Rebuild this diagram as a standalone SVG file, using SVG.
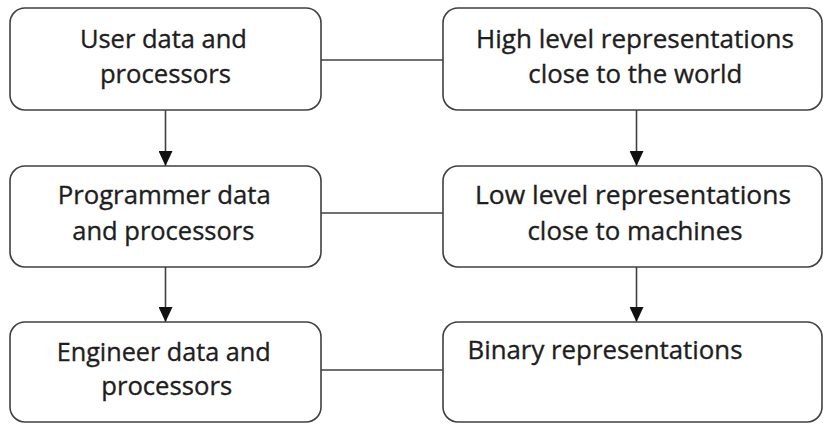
<svg xmlns="http://www.w3.org/2000/svg" width="823" height="424" viewBox="0 0 823 424">
<style>
.box{fill:#fff;stroke:#404040;stroke-width:1.6}
.lbl{font-family:"Open Sans","Liberation Sans",sans-serif;font-size:25px;fill:#1e1e1e;stroke:#1e1e1e;stroke-width:0.35;text-anchor:middle}
.edge{stroke:#404040;stroke-width:1.6;fill:none}
</style>
<defs>
<marker id="ah" markerWidth="16" markerHeight="14" refX="15" refY="7" orient="auto" markerUnits="userSpaceOnUse">
<path d="M0,0 L15,7 L0,14 Z" fill="#111"/>
</marker>
</defs>
<rect width="823" height="424" fill="#fff"/>
<g id="connectors">
<line class="edge" x1="321" y1="60" x2="443" y2="60"/>
<line class="edge" x1="321" y1="213" x2="443" y2="213"/>
<line class="edge" x1="321" y1="370" x2="443" y2="370"/>
<line class="edge" x1="165.5" y1="110" x2="165.5" y2="166" marker-end="url(#ah)"/>
<line class="edge" x1="165.5" y1="267" x2="165.5" y2="322" marker-end="url(#ah)"/>
<line class="edge" x1="636.5" y1="110" x2="636.5" y2="166" marker-end="url(#ah)"/>
<line class="edge" x1="636.5" y1="267" x2="636.5" y2="322" marker-end="url(#ah)"/>
</g>
<g id="user">
<rect class="box" x="10" y="8" width="311" height="102" rx="15"/>
<text class="lbl" x="163.4" y="48" textLength="167" lengthAdjust="spacingAndGlyphs">User data and</text>
<text class="lbl" x="165.4" y="83" textLength="131" lengthAdjust="spacingAndGlyphs">processors</text>
</g>
<g id="high">
<rect class="box" x="443" y="8" width="379" height="102" rx="15"/>
<text class="lbl" x="635" y="48" textLength="318" lengthAdjust="spacingAndGlyphs">High level representations</text>
<text class="lbl" x="635.3" y="83" textLength="214" lengthAdjust="spacingAndGlyphs">close to the world</text>
</g>
<g id="programmer">
<rect class="box" x="10" y="166" width="311" height="101" rx="15"/>
<text class="lbl" x="164.2" y="204" textLength="213" lengthAdjust="spacingAndGlyphs">Programmer data</text>
<text class="lbl" x="163.3" y="240" textLength="182" lengthAdjust="spacingAndGlyphs">and processors</text>
</g>
<g id="low">
<rect class="box" x="443" y="166" width="379" height="101" rx="15"/>
<text class="lbl" x="633" y="204" textLength="316" lengthAdjust="spacingAndGlyphs">Low level representations</text>
<text class="lbl" x="635" y="240" textLength="215" lengthAdjust="spacingAndGlyphs">close to machines</text>
</g>
<g id="engineer">
<rect class="box" x="10" y="322" width="311" height="100" rx="15"/>
<text class="lbl" x="163.7" y="361" textLength="214" lengthAdjust="spacingAndGlyphs">Engineer data and</text>
<text class="lbl" x="166.7" y="395" textLength="131" lengthAdjust="spacingAndGlyphs">processors</text>
</g>
<g id="binary">
<rect class="box" x="443" y="322" width="379" height="100" rx="15"/>
<text class="lbl" x="467.5" y="359" textLength="275" lengthAdjust="spacingAndGlyphs" style="text-anchor:start">Binary representations</text>
</g>
</svg>
